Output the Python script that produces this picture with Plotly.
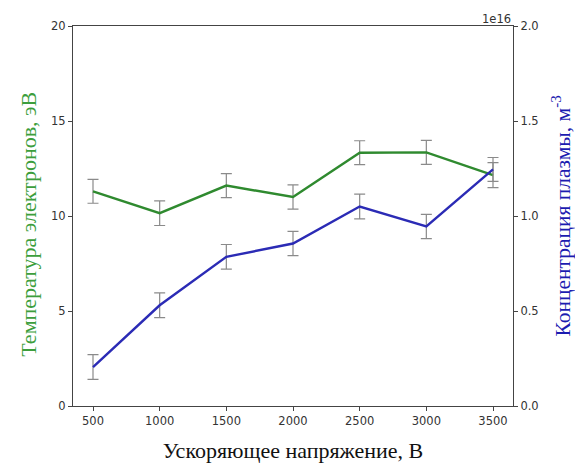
import plotly.graph_objects as go

voltage = [500, 1000, 1500, 2000, 2500, 3000, 3500]
temperature = [11.3, 10.15, 11.6, 11.0, 13.33, 13.35, 12.15]
temperature_err = [0.63, 0.65, 0.63, 0.64, 0.63, 0.63, 0.66]
density = [0.205, 0.53, 0.785, 0.855, 1.05, 0.945, 1.245]  # x 1e16 m^-3
density_err = [0.065, 0.065, 0.065, 0.064, 0.065, 0.064, 0.063]

x_ticks = [500, 1000, 1500, 2000, 2500, 3000, 3500]
left_ticks = [0, 5, 10, 15, 20]
right_ticks = [0.0, 0.5, 1.0, 1.5, 2.0]

tick_font = dict(family="DejaVu Sans", size=11.5, color="#333333")
axis_line = dict(showline=True, linecolor="#444444", linewidth=1.2,
                 ticks="outside", ticklen=4, tickcolor="#444444",
                 showgrid=False, zeroline=False, automargin=False)

fig = go.Figure()
fig.add_trace(go.Scatter(
    x=voltage, y=temperature, mode="lines",
    line=dict(color="#2f8a2f", width=2.4),
    error_y=dict(type="data", array=temperature_err, visible=True,
                 color="#8a8a8a", thickness=1.2, width=5.5),
    yaxis="y", showlegend=False))
fig.add_trace(go.Scatter(
    x=voltage, y=density, mode="lines",
    line=dict(color="#2b2bb5", width=2.4),
    error_y=dict(type="data", array=density_err, visible=True,
                 color="#8a8a8a", thickness=1.2, width=5.5),
    yaxis="y2", showlegend=False))

fig.update_layout(
    width=575, height=463,
    margin=dict(l=73, r=62, t=26, b=57),
    paper_bgcolor="white", plot_bgcolor="white",
    xaxis=dict(range=[350, 3650], tickvals=x_ticks, tickfont=tick_font,
               mirror=True,
               title=dict(text="Ускоряющее напряжение, В",
                          font=dict(family="Liberation Serif", size=22, color="#111111"),
                          standoff=20),
               **axis_line),
    yaxis=dict(range=[0, 20], tickvals=left_ticks, tickfont=tick_font,
               **axis_line),
    yaxis2=dict(range=[0, 2], tickvals=right_ticks, tickformat=".1f",
                tickfont=tick_font, overlaying="y", side="right",
                **axis_line),
    annotations=[
        dict(text="Температура электронов, эВ", textangle=-90,
             xref="paper", yref="paper", x=-0.1, y=0.477,
             xanchor="center", yanchor="middle", showarrow=False,
             font=dict(family="Liberation Serif", size=22, color="#3c9e3c")),
        dict(text="Концентрация плазмы, м<sup>-3</sup>", textangle=-90,
             xref="paper", yref="paper", x=1.108, y=0.5,
             xanchor="center", yanchor="middle", showarrow=False,
             font=dict(family="Liberation Serif", size=21.5, color="#1c1cb0")),
        dict(text="1e16", xref="paper", yref="paper", x=1.0, y=1.0,
             xanchor="right", yanchor="bottom", showarrow=False, yshift=-2,
             font=dict(family="DejaVu Sans", size=11.5, color="#333333")),
    ],
)

fig.write_html("out.html", config={"displayModeBar": False},
               post_script="document.body.style.margin='0';")
